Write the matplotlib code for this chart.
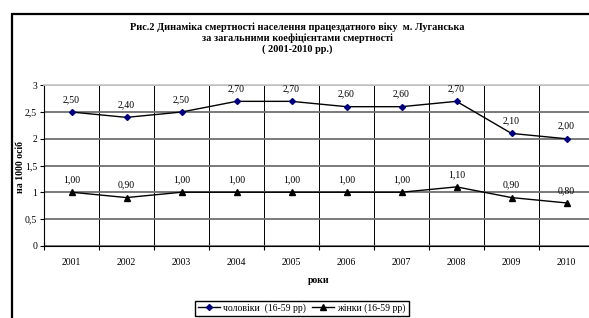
import matplotlib
matplotlib.use("Agg")
import matplotlib.pyplot as plt
import numpy as np
from matplotlib.patches import Rectangle

years = ['2001', '2002', '2003', '2004', '2005', '2006', '2007', '2008', '2009', '2010']
men = [2.5, 2.4, 2.5, 2.7, 2.7, 2.6, 2.6, 2.7, 2.1, 2.0]
women = [1.0, 0.9, 1.0, 1.0, 1.0, 1.0, 1.0, 1.1, 0.9, 0.8]
yticks = [0, 0.5, 1, 1.5, 2, 2.5, 3]

title = ("Рис.2 Динаміка смертності населення працездатного віку  м. Луганська\n"
         "за загальними коефіцієнтами смертності\n"
         "( 2001-2010 рр.)")

plt.rcParams['font.family'] = ['Liberation Serif', 'DejaVu Serif']
plt.rcParams['font.size'] = 7

W, H = 589, 318
fig = plt.figure(figsize=(W / 100, H / 100), dpi=100)

# outer chart frame (cropped on right/bottom)
fig.patches.append(Rectangle((11.5 / W, -0.1), 1.2, 1 - 13.5 / H + 0.1,
                             transform=fig.transFigure, fill=False,
                             edgecolor='black', linewidth=1.6, clip_on=False))

ax = fig.add_axes([44 / W, 1 - 245.7 / H, 550 / W, 160.4 / H])
x = np.arange(len(years))

ax.plot(x, men, color='black', linewidth=1, marker='D', markersize=3,
        markerfacecolor='#000080', markeredgecolor='#000080', label='чоловіки  (16-59 рр)')
ax.plot(x, women, color='black', linewidth=1, marker='^', markersize=4,
        markerfacecolor='black', markeredgecolor='black', label='жінки (16-59 рр)')

for xi, v in zip(x, men):
    ax.annotate(f"{v:.2f}".replace('.', ','), (xi, v), xytext=(0, 9),
                textcoords='offset points', ha='center', va='center', fontsize=7)
for xi, v in zip(x, women):
    ax.annotate(f"{v:.2f}".replace('.', ','), (xi, v), xytext=(0, 9),
                textcoords='offset points', ha='center', va='center', fontsize=7)

ax.set_xlim(-0.5, len(years) - 0.5)
ax.set_ylim(0, 3)
ax.set_yticks(yticks)
ax.set_yticklabels([str(t).replace('.', ',') if t % 1 else str(int(t)) for t in yticks])

ax.set_xticks(np.arange(-0.5, len(years)))
ax.set_xticklabels([])
ax.set_xticks(x, minor=True)
ax.set_xticklabels(years, minor=True)
ax.tick_params(axis='x', which='major', direction='inout', length=6, width=0.8)
ax.tick_params(axis='x', which='minor', length=0, pad=9)
ax.tick_params(axis='y', direction='out', length=3, width=0.8, pad=2)

ax.grid(axis='x', which='major', color='black', linewidth=0.7)
ax.grid(axis='y', color='#707070', linewidth=1.3)
ax.set_axisbelow(True)

ax.spines['top'].set_color('#c8c8c8')
ax.spines['top'].set_linewidth(1.3)
ax.spines['right'].set_visible(False)
ax.spines['left'].set_linewidth(0.8)
ax.spines['bottom'].set_linewidth(0.8)

ax.set_xlabel('роки', fontweight='bold', fontsize=7, labelpad=6)
ax.set_ylabel('на 1000 осіб', fontweight='bold', fontsize=7)
ax.yaxis.set_label_coords(-0.034, 0.49)

fig.text(297 / W, 1 - 22 / H, title, ha='center', va='top', fontsize=7.4,
         fontweight='bold', linespacing=1.2)

fig.legend(loc='upper center', bbox_to_anchor=(302 / W, 1 - 300.5 / H), ncol=2,
           frameon=True, fancybox=False, edgecolor='black', framealpha=1,
           fontsize=7, handlelength=2.2, handletextpad=0.4, columnspacing=0.6,
           borderpad=0.3, borderaxespad=0)

fig.savefig('out.png', dpi=100)
